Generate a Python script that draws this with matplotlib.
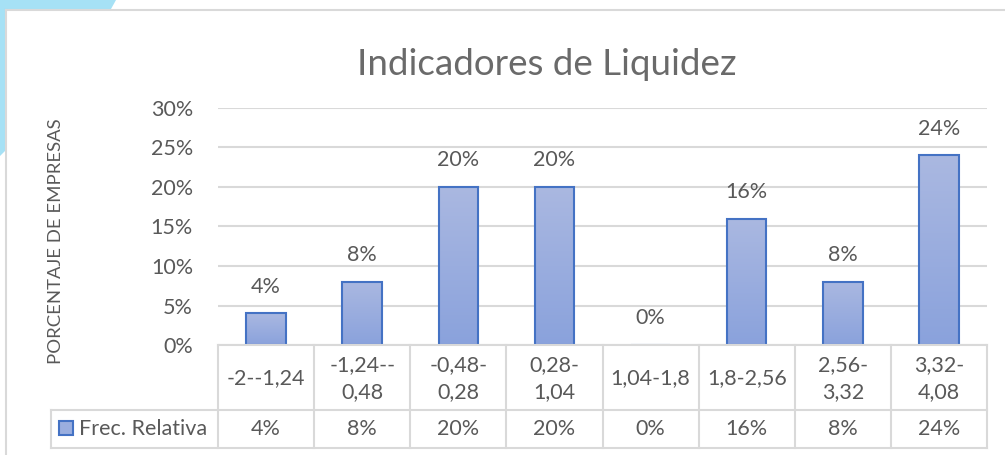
import matplotlib.pyplot as plt
import numpy as np
from matplotlib.colors import LinearSegmentedColormap
from matplotlib.patches import Polygon, Rectangle
from matplotlib.lines import Line2D

plt.rcParams['font.family'] = ['Lato', 'DejaVu Sans']

categories = ["-2--1,24", "-1,24--\n0,48", "-0,48-\n0,28", "0,28-\n1,04",
              "1,04-1,8", "1,8-2,56", "2,56-\n3,32", "3,32-\n4,08"]
values = [0.04, 0.08, 0.20, 0.20, 0.00, 0.16, 0.08, 0.24]
value_labels = ["4%", "8%", "20%", "20%", "0%", "16%", "8%", "24%"]
series_name = "Frec. Relativa"
yticks = [0, 0.05, 0.10, 0.15, 0.20, 0.25, 0.30]
ytick_labels = ["0%", "5%", "10%", "15%", "20%", "25%", "30%"]

W, H = 1005, 455
grey = "#595959"
line_grey = "#d9d9d9"
edge_blue = "#4472c4"
grad = LinearSegmentedColormap.from_list("g", ["#8aa2dc", "#aab8e1"])
fs = 15.5


def fx(x):
    return x / W


def fy(y):
    return 1 - y / H


fig = plt.figure(figsize=(W / 100, H / 100), dpi=100)

# background decoration + chart border
fig.patches.append(Polygon([(fx(0), fy(0)), (fx(116), fy(0)), (fx(111), fy(9)),
                            (fx(6), fy(9)), (fx(6), fy(150)), (fx(0), fy(156))],
                           closed=True, transform=fig.transFigure,
                           facecolor="#a6e1f5", edgecolor="none"))
fig.lines.append(Line2D([fx(6), fx(1005)], [fy(9.5), fy(9.5)],
                        transform=fig.transFigure, color=line_grey, lw=1.5))
fig.lines.append(Line2D([fx(6), fx(6)], [fy(9.5), fy(455)],
                        transform=fig.transFigure, color=line_grey, lw=1.5))

left, right, top, bottom = 218, 987, 108, 345
ax = fig.add_axes([fx(left), fy(bottom), (right - left) / W, (bottom - top) / H])
n = len(categories)
x = np.arange(n)
bars = ax.bar(x, values, width=0.41, facecolor="none", edgecolor=edge_blue,
              linewidth=1.5, zorder=3)
g = np.linspace(0, 1, 100).reshape(-1, 1)
for b in bars:
    bx, by, bw, bh = b.get_x(), b.get_y(), b.get_width(), b.get_height()
    if bh <= 0:
        continue
    im = ax.imshow(g, extent=[bx, bx + bw, by, by + bh], origin="lower",
                   aspect="auto", cmap=grad, zorder=2)
    im.set_clip_path(b)

for xi, v, lab in zip(x, values, value_labels):
    ax.annotate(lab, (xi, v), xytext=(0, 12), textcoords="offset points",
                ha="center", va="bottom", fontsize=fs, color=grey)

ax.set_xlim(-0.5, n - 0.5)
ax.set_ylim(0, 0.30)
ax.set_yticks(yticks)
ax.set_yticklabels(ytick_labels)
ax.set_xticks([])
ax.tick_params(axis="y", length=0, pad=18, labelsize=fs, labelcolor=grey)
ax.grid(axis="y", color=line_grey, lw=1.5, zorder=0)
for s in ax.spines.values():
    s.set_visible(False)

fig.text(fx(547), fy(65), "Indicadores de Liquidez", ha="center", va="center",
         fontsize=26.5, color="#6a6a6a")
fig.text(fx(56), fy(241), "PORCENTAJE DE EMPRESAS", rotation=90,
         ha="center", va="center", fontsize=13.3, color=grey)

# data table
col_w = (right - left) / n
row1, row2, row3 = 345, 410, 448
def hline(y, x0, x1):
    fig.lines.append(Line2D([fx(x0), fx(x1)], [fy(y), fy(y)],
                            transform=fig.transFigure, color=line_grey, lw=1.5))
def vline(xp, y0, y1):
    fig.lines.append(Line2D([fx(xp), fx(xp)], [fy(y0), fy(y1)],
                            transform=fig.transFigure, color=line_grey, lw=1.5))

hline(row1, left, right)
hline(row2, 51, right)
hline(row3, 51, right)
vline(51, row2, row3)
for i in range(n + 1):
    vline(left + i * col_w, row1, row3)
for i, (c, lab) in enumerate(zip(categories, value_labels)):
    cx = left + (i + 0.5) * col_w
    fig.text(fx(cx), fy((row1 + row2) / 2 + 1), c, ha="center", va="center",
             fontsize=fs, color=grey, linespacing=1.4)
    fig.text(fx(cx), fy((row2 + row3) / 2), lab, ha="center", va="center",
             fontsize=fs, color=grey)

# legend key in table
fig.patches.append(Rectangle((fx(59), fy(435)), 14 / W, 14 / H,
                             transform=fig.transFigure, facecolor="#9aaedf",
                             edgecolor=edge_blue, lw=1.5))
fig.text(fx(79), fy(429), series_name, ha="left", va="center",
         fontsize=fs, color=grey)

fig.savefig("out.png", dpi=100)
